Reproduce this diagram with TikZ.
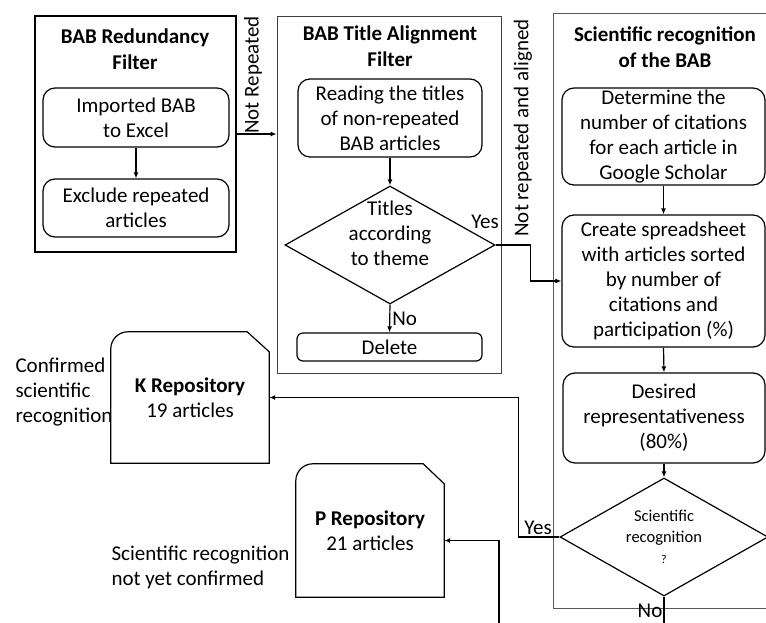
\documentclass[tikz,border=0pt]{standalone}
\usepackage{fontspec}
\setmainfont{Carlito}
\usetikzlibrary{positioning,calc,shapes.geometric,arrows.meta}

\begin{document}
\begin{tikzpicture}[x=1pt,y=-1pt,
        font=\fontsize{21}{25}\selectfont,
        FrameCfg/.style={draw=black!75,line width=0.9pt,inner sep=0pt},
        TitleCfg/.style={font=\fontsize{21}{25.5}\selectfont\bfseries,align=center},
        StepCfg/.style={draw,line width=1.2pt,rounded corners=12pt,align=center,inner sep=0pt},
        DecCfg/.style={draw,line width=1.2pt,diamond,aspect=1.8,inner sep=0pt,align=center},
        RepoCfg/.style={align=center,minimum width=158pt,minimum height=131pt,inner sep=0pt},
        Arr/.style={-{Latex[length=6pt,width=5pt]},line width=1.2pt}
    ]
    \useasboundingbox (0,0) rectangle (766,623);
    \clip (0,0) rectangle (766,623);
    
    %BAB redundancy filter
    \node[FrameCfg,draw=black,line width=1.4pt,minimum width=201pt,minimum height=236pt] (FA) at (135.5,134) {};
    \node[TitleCfg] (TA) at (135,49) {BAB Redundancy\\Filter};
    \node[StepCfg,minimum width=186pt,minimum height=59pt] (imp) at (136,117.5) {Imported BAB\\to Excel};
    \node[StepCfg,minimum width=186pt,minimum height=58pt] (excl) at (136,208) {Exclude repeated\\articles};
    
    %BAB title alignment filter
    \node[FrameCfg,minimum width=224pt,minimum height=357pt] (FB) at (389,194.5) {};
    \node[TitleCfg] (TB) at (390,46) {BAB Title Alignment\\Filter};
    \node[StepCfg,minimum width=184pt,minimum height=78pt] (read) at (390,118) {Reading the titles\\of non-repeated\\BAB articles};
    \node[DecCfg,minimum width=210pt,minimum height=118pt] (tit) at (390,245) {};
    \node[align=center] (titTxt) at ([yshift=12pt]tit.center) {Titles\\according\\to theme};
    \node[StepCfg,rounded corners=6pt,minimum width=185pt,minimum height=28pt] (del) at (389.5,347) {Delete};
    
    %scientific recognition of the BAB
    \node[FrameCfg,draw=black!65,minimum width=260pt,minimum height=595pt] (FC) at (683,310.5) {};
    \node[TitleCfg] (TC) at (665,47) {Scientific recognition\\of the BAB};
    \node[StepCfg,minimum width=203pt,minimum height=97pt] (det) at (663.5,136.5) {Determine the\\number of citations\\for each article in\\Google Scholar};
    \node[StepCfg,minimum width=203pt,minimum height=132pt] (crea) at (663.5,281) {Create spreadsheet\\with articles sorted\\by number of\\citations and\\participation (\%)};
    \node[StepCfg,minimum width=202pt,minimum height=90pt] (des) at (664,418) {Desired\\representativeness\\(80\%)};
    \node[DecCfg,minimum width=208pt,minimum height=118pt,font=\fontsize{16.5}{21}\selectfont] (sci) at (664,537) {Scientific\\recognition\\{\fontsize{12}{12}\selectfont ?}};
    
    %repositories
    \node[RepoCfg] (K) at (190,397.5) {\textbf{K Repository}\\19 articles};
    \draw[line width=1.2pt] (K.south west)--([yshift=-17pt]K.north west) arc[start angle=180,end angle=90,radius=17pt]--([xshift=-22pt]K.north east)--([yshift=-20pt]K.north east)--(K.south east)--cycle;
    \node[RepoCfg,minimum width=148pt,minimum height=133pt] (P) at (370,530.5) {\textbf{P Repository}\\21 articles};
    \draw[line width=1.2pt] (P.south west)--([yshift=-17pt]P.north west) arc[start angle=180,end angle=90,radius=17pt]--([xshift=-21pt]P.north east)--([yshift=-20pt]P.north east)--(P.south east)--cycle;
    \node[align=left,anchor=west] (Kl) at (12,392) {Confirmed\\scientific\\recognition};
    \node[align=left,anchor=west] (Pl) at (108,567) {Scientific recognition\\not yet confirmed};
    
    %connections
    \draw[Arr] (imp.south)--(excl.north);
    \draw[Arr] (FA.east)--(FA.east -| FB.west);
    \node[rotate=90] (nrep) at (253,75) {Not Repeated};
    \draw[Arr] (read.south)--(tit.north);
    \draw[Arr] (tit.south)--(del.north)node[midway,right,inner sep=2pt]{No};
    \draw[Arr] (tit.east)--++(35,0)|-(crea.west);
    \node (y1) at (485,222) {Yes};
    \node[rotate=90] (nra) at (523,128) {Not repeated and aligned};
    \draw[Arr] (det.south)--(crea.north);
    \draw[Arr] (crea.south)--(des.north);
    \draw[Arr] (des.south)--(sci.north);
    \draw[Arr] (sci.west)--++(-41,0)|-(K.east);
    \node (y2) at (538,528) {Yes};
    \coordinate (noEnd) at (sci.south |- 0,630);
    \draw[line width=1.2pt] (sci.south)--(noEnd);
    \node[anchor=base,inner sep=0pt] (n2) at (650,617) {No};
    \coordinate (pEnd) at (499,630);
    \draw[Arr] (pEnd)|-([yshift=-10pt]P.east);
    
\end{tikzpicture}
\end{document}
